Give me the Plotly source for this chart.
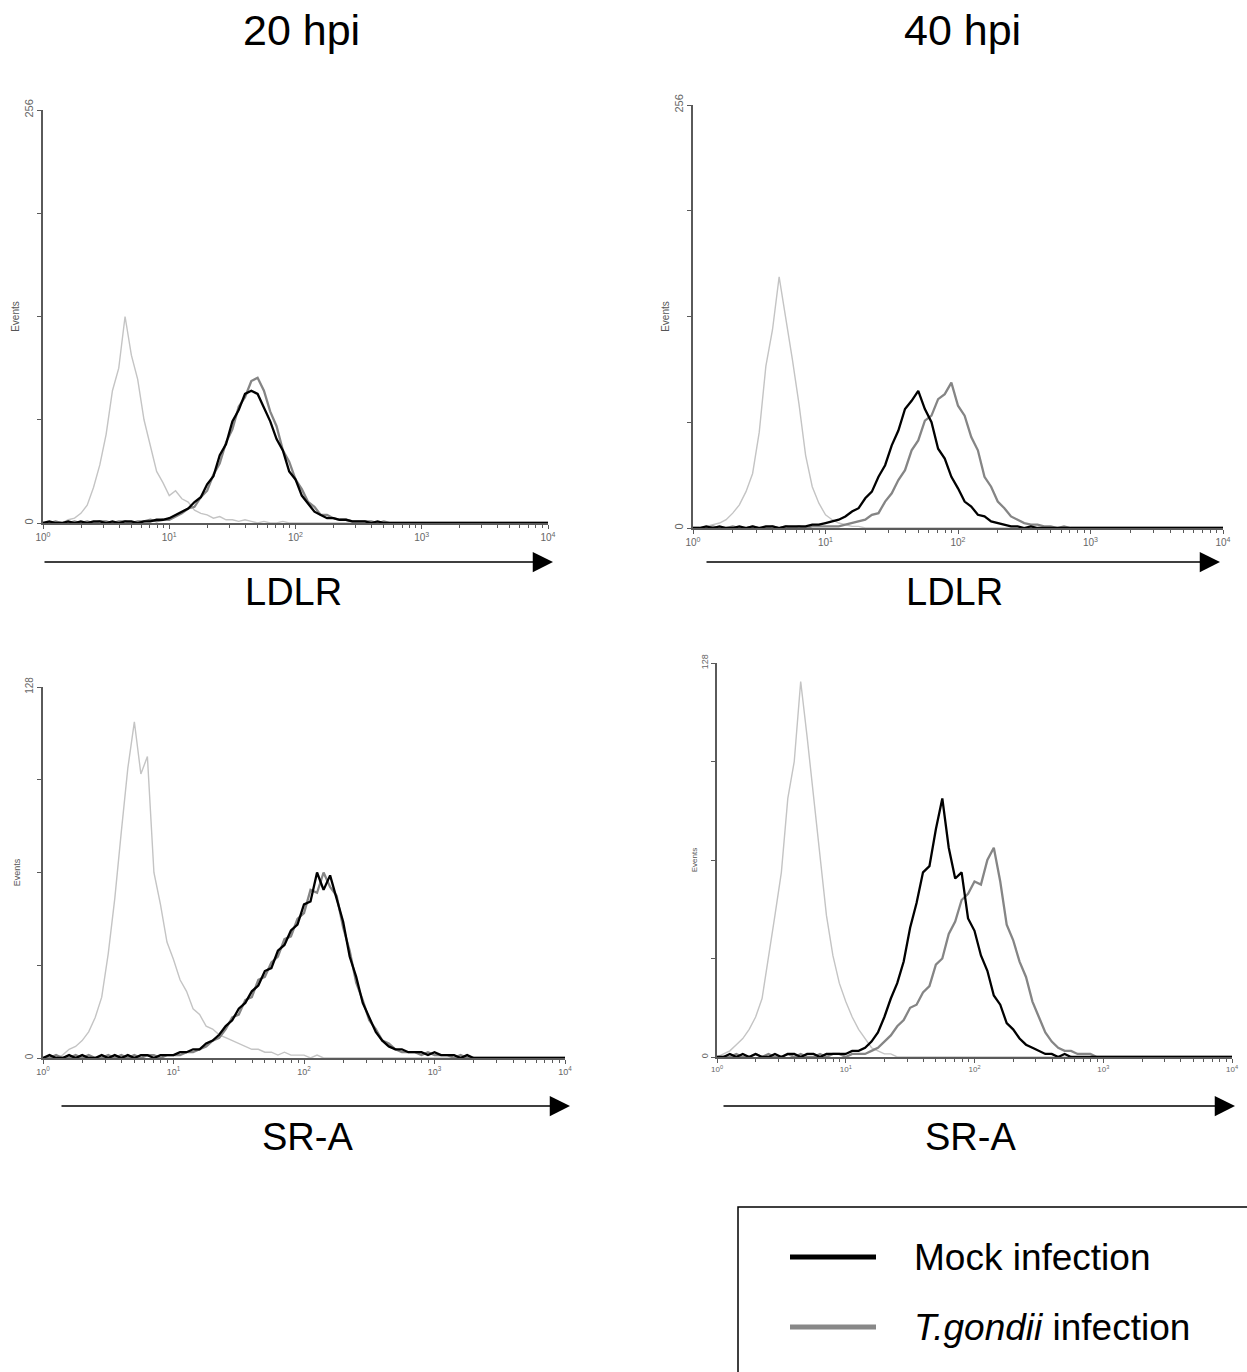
import plotly.graph_objects as go

# ---------------- data ----------------
# log10 fluorescence channel positions (bins)
LOG_FL = [0.00, 0.05, 0.10, 0.15, 0.20, 0.25, 0.30, 0.35, 0.40, 0.45,
          0.50, 0.55, 0.60, 0.65, 0.70, 0.75, 0.80, 0.85, 0.90, 0.95,
          1.00, 1.05, 1.10, 1.15, 1.20, 1.25, 1.30, 1.35, 1.40, 1.45,
          1.50, 1.55, 1.60, 1.65, 1.70, 1.75, 1.80, 1.85, 1.90, 1.95,
          2.00, 2.05, 2.10, 2.15, 2.20, 2.25, 2.30, 2.35, 2.40, 2.45,
          2.50, 2.55, 2.60, 2.65, 2.70, 2.75, 2.80, 2.85, 2.90, 2.95,
          3.00, 3.05, 3.10, 3.15, 3.20, 3.25, 3.30, 3.35, 3.40, 3.45,
          3.50, 3.55, 3.60, 3.65, 3.70, 3.75, 3.80, 3.85, 3.90, 3.95,
          4.00]

Z21 = [0] * 21  # trailing empty bins (3.00 - 4.00)

# LDLR, 20 hpi
iso_ldlr_20 = [0, 0, 1, 0, 2, 3, 6, 11, 22, 36,
               55, 82, 96, 128, 104, 89, 64, 48, 32, 25,
               17, 20, 15, 13, 8, 6, 5, 3, 4, 2,
               2, 1, 2, 1, 0, 1, 0, 0, 1, 0,
               0, 0, 0, 0, 0, 0, 0, 0, 0, 0,
               0, 0, 0, 0, 0, 0, 0, 0, 0, 0] + Z21
mock_ldlr_20 = [0, 1, 0, 0, 1, 0, 1, 0, 1, 1,
                0, 1, 0, 1, 1, 0, 1, 1, 2, 2,
                3, 5, 7, 9, 13, 16, 24, 29, 42, 49,
                63, 70, 80, 82, 80, 72, 63, 52, 45, 32,
                27, 17, 12, 7, 5, 3, 3, 2, 2, 1,
                1, 1, 0, 1, 0, 0, 0, 0, 0, 0] + Z21
tg_ldlr_20 = [0, 0, 1, 0, 0, 1, 0, 1, 0, 1,
              1, 0, 1, 1, 0, 1, 1, 2, 1, 2,
              2, 4, 6, 9, 10, 16, 20, 30, 37, 50,
              58, 72, 78, 88, 90, 82, 69, 60, 45, 38,
              27, 21, 13, 10, 5, 5, 3, 2, 2, 1,
              1, 1, 1, 0, 1, 0, 0, 0, 0, 0] + Z21

# LDLR, 40 hpi
iso_ldlr_40 = [0, 0, 1, 2, 3, 5, 9, 14, 22, 33,
               58, 98, 120, 152, 128, 102, 75, 44, 25, 15,
               8, 5, 3, 2, 1, 1, 0, 0, 0, 0,
               0, 0, 0, 0, 0, 0, 0, 0, 0, 0,
               0, 0, 0, 0, 0, 0, 0, 0, 0, 0,
               0, 0, 0, 0, 0, 0, 0, 0, 0, 0] + Z21
mock_ldlr_40 = [0, 0, 1, 0, 1, 0, 0, 1, 0, 1,
                0, 1, 1, 0, 1, 1, 1, 1, 2, 2,
                3, 4, 5, 7, 10, 12, 18, 22, 31, 38,
                50, 59, 72, 77, 83, 72, 64, 48, 42, 31,
                24, 16, 13, 8, 7, 4, 3, 2, 1, 1,
                0, 1, 0, 0, 0, 0, 0, 0, 0, 0] + Z21
tg_ldlr_40 = [0, 0, 0, 1, 0, 0, 1, 0, 0, 1,
              0, 0, 1, 0, 1, 0, 1, 0, 1, 1,
              1, 1, 1, 2, 3, 4, 5, 8, 9, 16,
              21, 29, 35, 47, 53, 65, 68, 78, 81, 88,
              74, 68, 55, 47, 31, 25, 16, 12, 7, 5,
              3, 2, 2, 1, 1, 0, 1, 0, 0, 0] + Z21

# SR-A, 20 hpi
iso_sra_20 = [0, 1, 0, 1, 3, 4, 6, 9, 14, 21,
              36, 55, 78, 100, 116, 98, 104, 64, 53, 40,
              34, 27, 23, 17, 15, 11, 10, 8, 7, 6,
              5, 4, 3, 3, 2, 2, 1, 2, 1, 1,
              1, 0, 1, 0, 0, 0, 0, 0, 0, 0,
              0, 0, 0, 0, 0, 0, 0, 0, 0, 0] + Z21
mock_sra_20 = [0, 1, 0, 0, 1, 0, 1, 0, 0, 1,
               0, 1, 0, 1, 0, 1, 1, 0, 1, 1,
               1, 2, 2, 3, 3, 5, 6, 8, 11, 13,
               17, 19, 23, 25, 30, 31, 37, 39, 44, 46,
               53, 54, 64, 58, 63, 55, 47, 35, 28, 19,
               14, 9, 6, 4, 3, 3, 2, 2, 2, 1,
               2, 1, 1, 1, 0, 1, 0, 0, 0, 0,
               0, 0, 0, 0, 0, 0, 0, 0, 0, 0, 0]
tg_sra_20 = [0, 0, 1, 0, 0, 1, 0, 1, 0, 0,
             1, 0, 1, 0, 1, 0, 1, 1, 0, 1,
             1, 1, 2, 2, 3, 4, 6, 7, 10, 14,
             15, 20, 21, 27, 28, 33, 35, 41, 42, 48,
             50, 58, 57, 64, 59, 56, 45, 37, 26, 20,
             13, 10, 6, 5, 3, 2, 2, 2, 1, 2,
             1, 1, 1, 0, 1, 0, 0, 0, 0, 0,
             0, 0, 0, 0, 0, 0, 0, 0, 0, 0, 0]

# SR-A, 40 hpi
iso_sra_40 = [0, 1, 2, 4, 6, 9, 13, 19, 32, 46,
              60, 84, 96, 122, 104, 85, 64, 46, 33, 24,
              18, 13, 9, 6, 3, 2, 1, 1, 0, 0,
              0, 0, 0, 0, 0, 0, 0, 0, 0, 0,
              0, 0, 0, 0, 0, 0, 0, 0, 0, 0,
              0, 0, 0, 0, 0, 0, 0, 0, 0, 0] + Z21
mock_sra_40 = [0, 0, 1, 0, 1, 0, 1, 0, 0, 1,
               0, 1, 1, 0, 1, 1, 0, 1, 1, 1,
               1, 2, 2, 3, 5, 8, 13, 19, 24, 31,
               42, 50, 60, 62, 74, 84, 68, 58, 60, 45,
               41, 33, 28, 20, 17, 11, 9, 6, 4, 3,
               2, 1, 1, 0, 1, 0, 0, 0, 0, 0] + Z21
tg_sra_40 = [0, 0, 0, 1, 0, 0, 1, 0, 1, 0,
             0, 1, 0, 1, 0, 0, 1, 0, 1, 1,
             0, 1, 1, 1, 2, 3, 5, 7, 10, 12,
             16, 17, 21, 23, 30, 32, 40, 44, 51, 53,
             57, 56, 64, 68, 57, 43, 38, 31, 26, 18,
             13, 8, 5, 3, 2, 2, 1, 1, 1, 0] + Z21

PANELS = [
    # (iso, mock, tgondii, ymax)
    (iso_ldlr_20, mock_ldlr_20, tg_ldlr_20, 256),
    (iso_ldlr_40, mock_ldlr_40, tg_ldlr_40, 256),
    (iso_sra_20, mock_sra_20, tg_sra_20, 128),
    (iso_sra_40, mock_sra_40, tg_sra_40, 128),
]
COL_TITLES = ["20 hpi", "40 hpi"]
MARKERS = ["LDLR", "LDLR", "SR-A", "SR-A"]
SERIES_NAMES = ["Mock infection", "<i>T.gondii</i> infection"]
X_TICKVALS = [1, 10, 100, 1000, 10000]
X_TICKTEXT = ["10<sup>0</sup>", "10<sup>1</sup>", "10<sup>2</sup>",
              "10<sup>3</sup>", "10<sup>4</sup>"]

# ---------------- layout ----------------
W, H = 1247, 1372
FONT = "Liberation Sans, Arial, Helvetica, sans-serif"
C_ISO, C_MOCK, C_TG = "#c4c4c4", "#000000", "#858585"
AXC = "#5a5a5a"

# pixel boxes of each panel (left, right, top, bottom)
BOXES = [(43, 548, 110, 523), (693, 1223, 105, 528),
         (43, 565, 687, 1058), (717, 1232, 663, 1057)]
TICKFS = [10, 10, 9, 8]
TITLE_STANDOFF = [1, 1, 2, 1]


def px(x):
    return x / W


def py(y):
    return 1 - y / H


fl = [10 ** v for v in LOG_FL]
minor_vals = [m * 10 ** d for d in range(4) for m in range(2, 10)]

fig = go.Figure()
layout = dict(width=W, height=H, autosize=False,
              margin=dict(l=0, r=0, t=0, b=0, pad=0, autoexpand=False),
              paper_bgcolor="white", plot_bgcolor="white", template="none",
              showlegend=False, font=dict(family=FONT, color="black"))

for i, (iso, mock, tg, ymax) in enumerate(PANELS):
    n = "" if i == 0 else str(i + 1)
    xa, ya = "x" + n, "y" + n
    for yv, c, w in [(iso, C_ISO, 1.4), (tg, C_TG, 2.3), (mock, C_MOCK, 2.3)]:
        fig.add_trace(go.Scatter(x=fl, y=yv, mode="lines", xaxis=xa, yaxis=ya,
                                 line=dict(color=c, width=w), hoverinfo="skip"))
    l, r, t, b = BOXES[i]
    layout["xaxis" + n] = dict(
        domain=[px(l), px(r)], anchor=ya, type="log", range=[0, 4], automargin=False,
        showline=True, linecolor=AXC, linewidth=1.5, showgrid=False, zeroline=False,
        tickvals=X_TICKVALS, ticktext=X_TICKTEXT, ticks="outside", ticklen=4,
        tickcolor=AXC, tickfont=dict(size=TICKFS[i], color="#666"),
        minor=dict(tickvals=minor_vals, ticks="outside", ticklen=3, tickcolor=AXC),
    )
    layout["yaxis" + n] = dict(
        domain=[py(b), py(t)], anchor=xa, range=[0, ymax], automargin=False,
        showline=True, linecolor=AXC, linewidth=1.5, showgrid=False, zeroline=False,
        tickvals=[0, ymax / 4, ymax / 2, 3 * ymax / 4, ymax],
        ticktext=["0", "", "", "", str(ymax)], tickangle=-90,
        ticks="outside", ticklen=4, tickcolor=AXC,
        tickfont=dict(size=TICKFS[i] + 1, color="#666"),
        title=dict(text="Events", font=dict(size=TICKFS[i], color="#555"),
                   standoff=TITLE_STANDOFF[i]),
    )

fig.update_layout(**layout)

ann = []
# column titles
for txt, cx in zip(COL_TITLES, [301, 963]):
    ann.append(dict(text=txt, x=px(cx), y=py(30), xref="paper", yref="paper",
                    showarrow=False, font=dict(size=43, family=FONT, color="black"),
                    xanchor="center", yanchor="middle"))
# arrows and marker labels
ARROWS = [(43, 553, 562, 293, 592), (705, 1220, 562, 955, 592),
          (60, 570, 1106, 307, 1137), (722, 1235, 1106, 970, 1137)]
for (x0, x1, yy, lx, ly), lab in zip(ARROWS, MARKERS):
    ann.append(dict(text="", x=px(x1), y=py(yy), xref="paper", yref="paper",
                    showarrow=True, ax=x0 - x1, ay=0, arrowhead=2, arrowsize=2.7,
                    arrowwidth=1.5, arrowcolor="black", standoff=0, startstandoff=0))
    ann.append(dict(text=lab, x=px(lx), y=py(ly), xref="paper", yref="paper",
                    showarrow=False, font=dict(size=38, family=FONT, color="black"),
                    xanchor="center", yanchor="middle"))
# legend
for nm, yy in zip(SERIES_NAMES, [1257, 1327]):
    ann.append(dict(text=nm, x=px(912), y=py(yy), xref="paper", yref="paper",
                    showarrow=False, font=dict(size=37, family=FONT, color="black"),
                    xanchor="left", yanchor="middle"))

shapes = [dict(type="rect", xref="paper", yref="paper", x0=px(738), x1=px(1262),
               y0=py(1390), y1=py(1207), line=dict(color="black", width=1.5))]
for c, yy in [(C_MOCK, 1257), ("#888888", 1327)]:
    shapes.append(dict(type="line", xref="paper", yref="paper", x0=px(790), x1=px(876),
                       y0=py(yy), y1=py(yy), line=dict(color=c, width=5)))

fig.update_layout(annotations=ann, shapes=shapes)
fig.write_html("out.html", config={"displayModeBar": False},
               post_script="document.body.style.margin='0';"
                           "document.body.style.overflow='hidden';")
